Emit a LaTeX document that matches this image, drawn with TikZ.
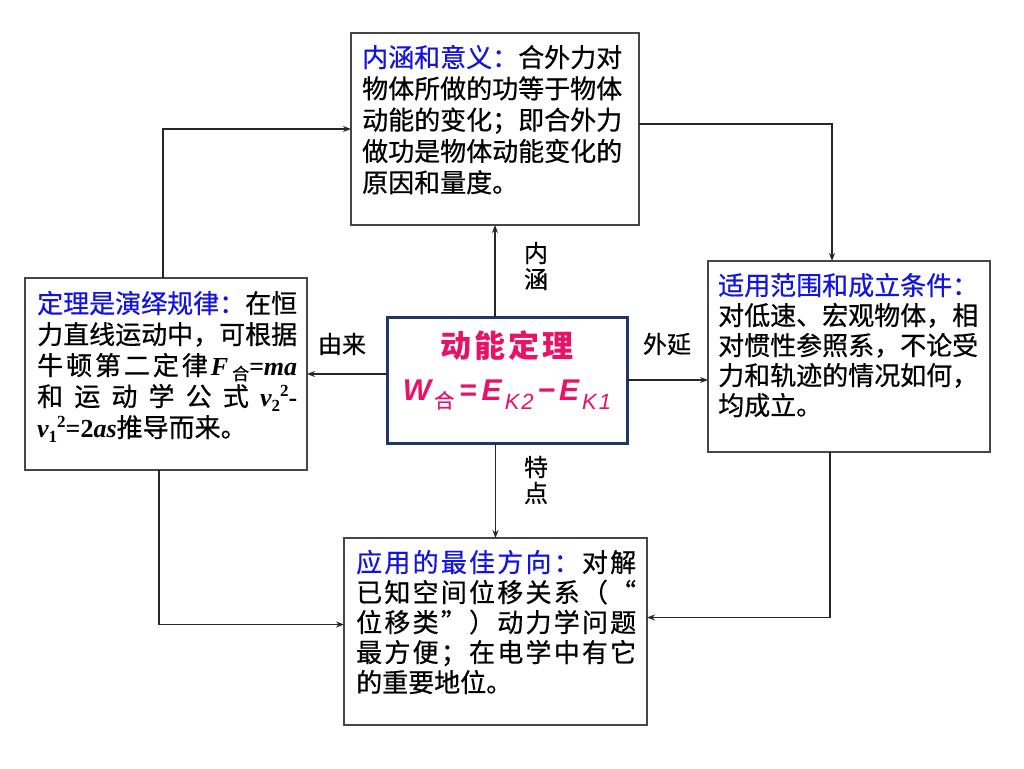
\documentclass[tikz,border=0pt]{standalone}
\usepackage{fontspec}
\setmainfont{Noto Sans CJK SC}[UprightFeatures={FakeBold=0.6}]
\newfontfamily\timesf{Liberation Serif}
\newfontfamily\arialf{Liberation Sans}
\usetikzlibrary{arrows.meta}
\definecolor{crim}{RGB}{232,18,102}
\definecolor{tblue}{RGB}{20,20,225}
\definecolor{navy}{RGB}{31,56,100}
\definecolor{edge}{RGB}{70,70,70}
\ExplSyntaxOn
\cs_new:Npn \spreadit #1 { \tl_map_inline:nn {#1} { \hfil ##1 } }
\ExplSyntaxOff
\newcommand\mth[1]{{\timesf\bfseries\itshape #1}}
\newcommand\mrm[1]{{\timesf\bfseries #1}}
\newcommand\lsub[1]{\raisebox{-5pt}{\fontsize{17}{17}\selectfont #1}}
\newcommand\lsup[1]{\raisebox{10pt}{\fontsize{17}{17}\selectfont #1}}
\tikzset{
 box/.style={draw=edge, line width=1.5pt, fill=white, rectangle, inner sep=0pt, outer sep=0pt, anchor=north west},
 conn/.style={draw=black!85, line width=1.5pt, -{Stealth[length=8pt,width=6pt]}},
 lbl/.style={inner sep=0pt, font=\fontsize{24}{26}\selectfont, align=center},
 txt/.style={inner sep=0pt, anchor=base west},
}
\begin{document}
\begin{tikzpicture}[x=1pt,y=-1pt]
\useasboundingbox[fill=white] (0,0) rectangle (1024,768);
% boxes
\node[box, minimum width=288pt, minimum height=192pt] (top) at (351,33) {};
\node[box, minimum width=282pt, minimum height=192pt] (left) at (25,278) {};
\node[box, minimum width=282pt, minimum height=191pt] (right) at (708,261) {};
\node[box, minimum width=303pt, minimum height=187pt] (bottom) at (344,538) {};
\node[box, draw=navy, line width=3pt, minimum width=240pt, minimum height=126pt] (center) at (387,317) {};
% texts
\node[txt] (toptext) at (362,67) {\parbox[t]{265pt}{\fontsize{26}{31.3}\selectfont
\hbox{\color{tblue}内涵和意义：\color{black}合外力对}
\hbox{物体所做的功等于物体}
\hbox{动能的变化；即合外力}
\hbox{做功是物体动能变化的}
\hbox{原因和量度。}}};
\node[txt] (lefttext) at (37,313) {\parbox[t]{260pt}{\fontsize{26}{31}\selectfont
\hbox{\color{tblue}定理是演绎规律：\color{black}在恒}
\hbox{力直线运动中，可根据}
\hbox to\hsize{牛\spreadit{顿第二定律}\hfil\mth{F}\kern4pt\lsub{合}\mth{=ma}}
\hbox to\hsize{和\spreadit{运动学公式}\hfil\mth{v}\lsub{\mrm{2}}\lsup{\mrm{2}}\mrm{-}}
\hbox{\mth{v}\lsub{\mrm{1}}\lsup{\mrm{2}}\mrm{=2}\mth{as}推导而来。}}};
\node[txt] (righttext) at (718,295) {\parbox[t]{262pt}{\fontsize{26}{30}\selectfont
\hbox{\color{tblue}适用范围和成立条件：}
\hbox{对低速、宏观物体，相}
\hbox{对惯性参照系，不论受}
\hbox{力和轨迹的情况如何，}
\hbox{均成立。}}};
\node[txt] (bottomtext) at (356,572) {\parbox[t]{280pt}{\fontsize{26}{30}\selectfont
\hbox to\hsize{\color{tblue}应\spreadit{用的最佳方向：}\color{black}\spreadit{对解}}
\hbox to\hsize{已\spreadit{知空间位移关系（“}}
\hbox to\hsize{位\spreadit{移类”）动力学问题}}
\hbox to\hsize{最\spreadit{方便；在电学中有它}}
\hbox{的重要地位。}}};
% center
\node[inner sep=0pt] (title) at (507,346) {\fontsize{31}{31}\selectfont\bfseries\color{crim}动\hspace{3pt}能\hspace{3pt}定\hspace{3pt}理};
\node[inner sep=0pt, anchor=base] (formula) at (507,400) {\color{crim}\arialf\bfseries\itshape\fontsize{30}{30}\selectfont W\kern3pt\raisebox{-8pt}{\normalfont\fontsize{20}{20}\selectfont 合}\kern5pt=\kern5pt E\kern3pt\raisebox{-9pt}{\fontsize{22}{22}\selectfont\mdseries K\kern2pt 2}\kern4pt−\kern4pt E\kern3pt\raisebox{-9pt}{\fontsize{22}{22}\selectfont\mdseries K\kern2pt 1}};
% labels
\node[lbl] (nh) at (536,266) {内\\涵};
\node[lbl] (td) at (536,480) {特\\点};
\node[lbl] (yl) at (342,344) {由来};
\node[lbl] (wy) at (667,344) {外延};
% inner connectors
\draw[conn] (top.south |- center.north) -- (top.south);
\draw[conn] (bottom.north |- center.south) -- (bottom.north);
\draw[conn] (center.west |- left.east) -- (left.east);
\draw[conn] (center.east) -- (center.east -| right.west);
% outer connectors
\coordinate (lt) at ([xshift=-3pt]left.north);
\draw[conn] (lt) |- (top.west);
\coordinate (te) at ([yshift=5pt]top.east);
\coordinate (rn) at ([xshift=-17pt]right.north);
\draw[conn] (te) -| (rn);
\coordinate (rs) at ([xshift=-19pt]right.south);
\coordinate (be) at ([yshift=14pt]bottom.east);
\draw[conn] (rs) |- (be);
\coordinate (lb) at ([xshift=-7pt]left.south);
\coordinate (bw) at ([yshift=7pt]bottom.west);
\draw[conn] (lb) |- (bw);
\end{tikzpicture}
\end{document}
